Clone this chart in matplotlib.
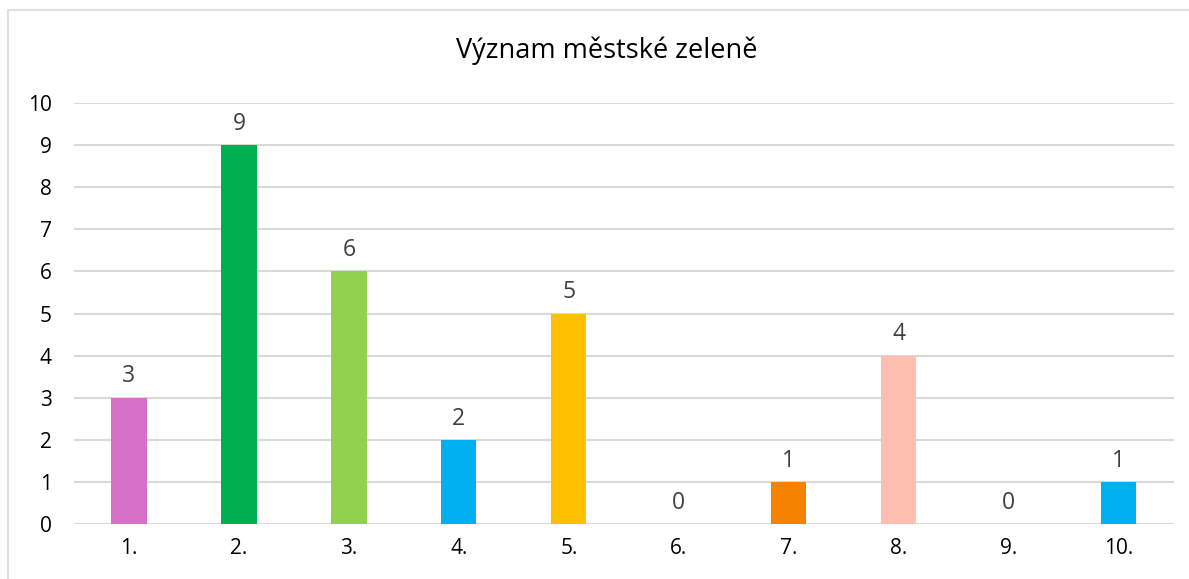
import matplotlib.pyplot as plt
from matplotlib.patches import Rectangle

# Data
kategorie = ['1.', '2.', '3.', '4.', '5.', '6.', '7.', '8.', '9.', '10.']
hodnoty = [3, 9, 6, 2, 5, 0, 1, 4, 0, 1]
barvy = ['#D670C9', '#00AF50', '#92D050', '#00B0F0', '#FFC000',
         '#A5A5A5', '#F58200', '#FFBFB0', '#A5A5A5', '#00B0F0']
titulek = 'Význam městské zeleně'

plt.rcParams['font.family'] = ['Open Sans', 'DejaVu Sans']

fig = plt.figure(figsize=(11.89, 5.79), dpi=100)
ax = fig.add_axes([0.0622, 0.095, 0.925, 0.727])

x = range(len(kategorie))
bars = ax.bar(x, hodnoty, width=0.32, color=barvy, zorder=3)

for xi, v in zip(x, hodnoty):
    ax.text(xi, v + 0.22, str(v), ha='center', va='bottom',
            fontsize=16.5, color='#404040')

ax.set_xlim(-0.5, len(kategorie) - 0.5)
ax.set_ylim(0, 10)
ax.set_yticks(range(0, 11))
ax.set_xticks(list(x))
ax.set_xticklabels(kategorie)
ax.tick_params(axis='both', length=0, labelsize=15, colors='black')
ax.tick_params(axis='x', pad=10)
ax.tick_params(axis='y', pad=16)
ax.grid(axis='y', color='#D9D9D9', linewidth=1.5, zorder=0)
for s in ax.spines.values():
    s.set_visible(False)

fig.text(0.51, 0.913, titulek, ha='center', va='center', fontsize=19.5)

# ramecek grafu
fig.patches.append(Rectangle((8 / 1189, -0.1), 1.2, 1 - 10 / 579 + 0.1,
                             transform=fig.transFigure, fill=False,
                             edgecolor='#D9D9D9', linewidth=1.2))

fig.savefig('out.png', dpi=100)
